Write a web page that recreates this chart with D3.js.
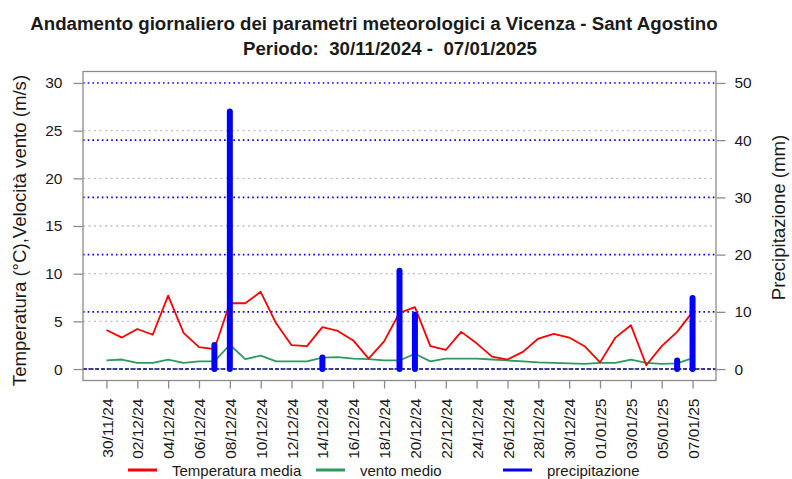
<!DOCTYPE html>
<html>
<head>
<meta charset="utf-8">
<script src="https://cdn.jsdelivr.net/npm/d3@7"></script>
<style>
  body { margin: 0; background: #fff; }
  svg { display: block; font-family: "Liberation Sans", Arial, sans-serif; }
  text { white-space: pre; }
</style>
</head>
<body>
<svg id="chart" width="792" height="479"></svg>
<script>
// ---- data ----
const dates = ["30/11/24","01/12/24","02/12/24","03/12/24","04/12/24","05/12/24","06/12/24","07/12/24","08/12/24","09/12/24",
  "10/12/24","11/12/24","12/12/24","13/12/24","14/12/24","15/12/24","16/12/24","17/12/24","18/12/24","19/12/24",
  "20/12/24","21/12/24","22/12/24","23/12/24","24/12/24","25/12/24","26/12/24","27/12/24","28/12/24","29/12/24",
  "30/12/24","31/12/24","01/01/25","02/01/25","03/01/25","04/01/25","05/01/25","06/01/25","07/01/25"];
const temperatura = [4.1,3.3,4.2,3.6,7.7,3.8,2.3,2.1,6.9,6.9,
  8.1,4.8,2.5,2.4,4.4,4.0,3.0,1.1,2.9,5.9,
  6.5,2.4,2.0,3.9,2.7,1.3,1.0,1.8,3.2,3.7,
  3.3,2.4,0.7,3.3,4.6,0.4,2.4,3.9,6.0];
const vento = [0.9,1.0,0.65,0.65,1.0,0.65,0.8,0.8,2.55,1.05,
  1.4,0.8,0.8,0.8,1.2,1.25,1.1,1.05,0.9,0.9,
  1.6,0.8,1.1,1.1,1.1,1.0,0.9,0.8,0.7,0.65,
  0.6,0.55,0.65,0.65,1.0,0.65,0.55,0.6,1.15];
const precipitazione = [0,0,0,0,0,0,0,4.2,45.0,0,
  0,0,0,0,2.0,0,0,0,0,17.2,
  9.5,0,0,0,0,0,0,0,0,0,
  0,0,0,0,0,0,0,1.5,12.4];
const leftTicks = [0,5,10,15,20,25,30];
const rightTicks = [0,10,20,30,40,50];
const legendLabels = ["Temperatura media","vento medio","precipitazione"];
const titleLines = ["Andamento giornaliero dei parametri meteorologici a Vicenza - Sant Agostino",
  "Periodo:  30/11/2024 -  07/01/2025"];
const leftTitle = "Temperatura (°C),Velocità vento (m/s)";
const rightTitle = "Precipitazione (mm)";

// ---- layout ----
const svg = d3.select("#chart");
const L = 83, R = 716, T = 71.5, B = 380.5;
const n = dates.length;
const pad = (n - 1) * 0.04;
const x = d3.scaleLinear().domain([-pad, n - 1 + pad]).range([L, R]);
const yL = d3.scaleLinear().domain([-1.2, 31.2]).range([B, T]);
const yR = d3.scaleLinear().domain([-2, 52]).range([B, T]);

const cRed = "#ff0000", cGreen = "#2e9a5e", cBlue = "#0000ff";

// grid
const g = svg.append("g");
g.selectAll("line.gg").data(leftTicks.filter(d => d > 0 && d < 30)).join("line")
  .attr("x1", L).attr("x2", R).attr("y1", d => yL(d)).attr("y2", d => yL(d))
  .attr("stroke", "#bdbdbd").attr("stroke-width", 1.3).attr("stroke-dasharray", "2,3.5");
g.selectAll("line.bg").data(rightTicks.filter(d => d > 0)).join("line")
  .attr("x1", L).attr("x2", R).attr("y1", d => yR(d)).attr("y2", d => yR(d))
  .attr("stroke", cBlue).attr("stroke-width", 1.6).attr("stroke-dasharray", "1.6,3.1");
// zero line
g.append("line").attr("x1", L).attr("x2", R).attr("y1", yL(0)).attr("y2", yL(0))
  .attr("stroke", "#4a4a6a").attr("stroke-width", 2).attr("stroke-dasharray", "4,2");
g.append("line").attr("x1", L).attr("x2", R).attr("y1", yL(0)).attr("y2", yL(0))
  .attr("stroke", cBlue).attr("stroke-width", 1.6).attr("stroke-dasharray", "1.6,3.1").attr("opacity", 0.6);

// lines
const lineT = d3.line().x((d, i) => x(i)).y(d => yL(d));
svg.append("path").attr("d", lineT(vento)).attr("fill", "none")
  .attr("stroke", cGreen).attr("stroke-width", 1.8).attr("stroke-linejoin", "round");
svg.append("path").attr("d", lineT(temperatura)).attr("fill", "none")
  .attr("stroke", cRed).attr("stroke-width", 1.8).attr("stroke-linejoin", "round");

// precipitation bars
svg.selectAll("line.pr").data(precipitazione.map((v, i) => ({v, i})).filter(d => d.v > 0)).join("line")
  .attr("x1", d => x(d.i)).attr("x2", d => x(d.i))
  .attr("y1", yR(0)).attr("y2", d => yR(d.v))
  .attr("stroke", cBlue).attr("stroke-width", 6).attr("stroke-linecap", "round");

// box
svg.append("rect").attr("x", L).attr("y", T).attr("width", R - L).attr("height", B - T)
  .attr("fill", "none").attr("stroke", "#8c8c8c").attr("stroke-width", 1.3);

// axes
const axL = svg.append("g").attr("transform", `translate(${L - 0.5},0)`)
  .call(d3.axisLeft(yL).tickValues(leftTicks).tickSize(9).tickPadding(11).tickFormat(d3.format("d")));
const axR = svg.append("g").attr("transform", `translate(${R + 0.5},0)`)
  .call(d3.axisRight(yR).tickValues(rightTicks).tickSize(9).tickPadding(9).tickFormat(d3.format("d")));
const xTickIdx = d3.range(0, n, 2);
const axB = svg.append("g").attr("transform", `translate(0,${B})`)
  .call(d3.axisBottom(x).tickValues(xTickIdx).tickSize(8).tickFormat(i => dates[i]));
[axL, axR, axB].forEach(a => {
  a.select(".domain").remove();
  a.selectAll(".tick line").attr("stroke", "#8c8c8c").attr("stroke-width", 1.3);
  a.selectAll(".tick text").attr("fill", "#1a1a1a").attr("font-size", 15.5)
    .attr("font-family", "'Liberation Sans', Arial, sans-serif");
});
axB.selectAll(".tick text")
  .attr("transform", "rotate(-90)")
  .attr("text-anchor", "end")
  .attr("x", -18).attr("y", 0).attr("dy", "0.36em");

// axis titles
svg.append("text").attr("transform", `translate(26,230.5) rotate(-90)`)
  .attr("text-anchor", "middle").attr("font-size", 18.6).attr("fill", "#1a1a1a").text(leftTitle);
svg.append("text").attr("transform", `translate(785,217.5) rotate(-90)`)
  .attr("text-anchor", "middle").attr("font-size", 18.6).attr("fill", "#1a1a1a").text(rightTitle);

// title
const titleCx = [374, 390];
svg.selectAll("text.title").data(titleLines).join("text")
  .attr("x", (d, i) => titleCx[i]).attr("y", (d, i) => 30 + i * 24.5)
  .attr("text-anchor", "middle").attr("font-size", 18.7).attr("font-weight", "bold")
  .attr("fill", "#1a1a1a").text(d => d);

// legend
const legColors = [cRed, cGreen, cBlue];
const legX = [128, 316, 503];
const leg = svg.selectAll("g.leg").data(legendLabels).join("g")
  .attr("transform", (d, i) => `translate(${legX[i]},470)`);
leg.append("line").attr("x1", 0).attr("x2", 29).attr("y1", 0).attr("y2", 0)
  .attr("stroke", (d, i) => legColors[i]).attr("stroke-width", 3);
leg.append("text").attr("x", 44).attr("y", 5.5).attr("font-size", 15).attr("fill", "#1a1a1a").text(d => d);
</script>
</body>
</html>
